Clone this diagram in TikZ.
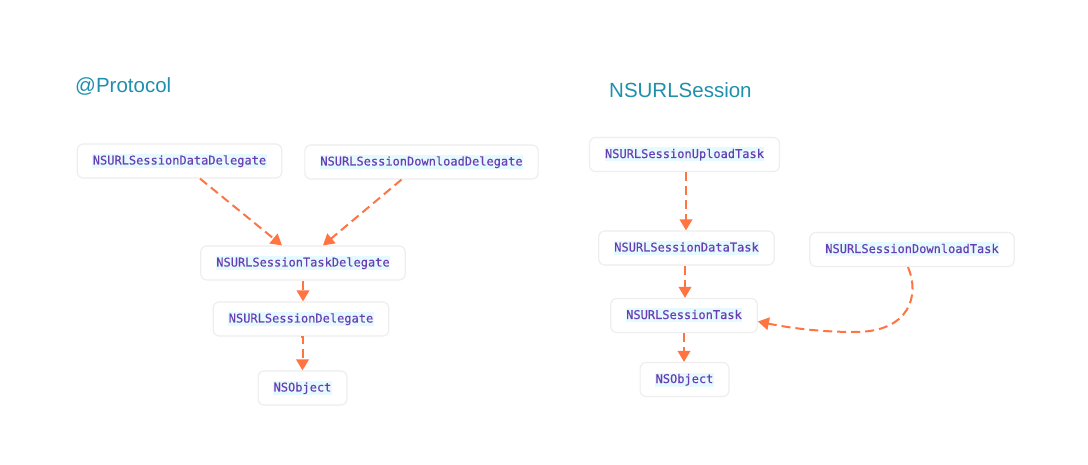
\documentclass[tikz,border=0pt]{standalone}
\usepackage{fontspec}
\setmainfont{Liberation Sans}
\newfontfamily\codefont[FakeBold=0.35]{DejaVu Sans Mono}
\usetikzlibrary{arrows.meta}
\definecolor{arr}{HTML}{FF7441}
\definecolor{ttl}{HTML}{1E90AE}
\definecolor{txt}{HTML}{6A3DB2}
\definecolor{hl}{HTML}{E4FAFF}
\definecolor{bd}{HTML}{EEEEEE}
\newcommand{\hlt}[1]{{\setlength{\fboxsep}{0.5pt}\colorbox{hl}{\vrule height 10pt depth 3pt width 0pt #1}}}
\begin{document}
\begin{tikzpicture}[x=1pt,y=-1pt,
  cls/.style={draw=bd, line width=1.2pt, rounded corners=6pt, fill=white,
    inner xsep=15pt, inner ysep=0pt, minimum height=34pt,
    font=\codefont\fontsize{12}{14}\selectfont, text=txt},
  link/.style={draw=arr, line width=2pt, dash pattern=on 9pt off 5pt,
    -{Triangle[length=11pt,width=12.5pt]}},
  ttlstyle/.style={anchor=base west, inner sep=0pt, text=ttl,
    font=\fontsize{20.5}{24}\selectfont}]
\fill[white] (0,0) rectangle (1088,465);
\useasboundingbox (0,0) rectangle (1088,465);

\node[ttlstyle] (tp) at (75,93) {@Protocol};
\node[ttlstyle] (ts) at (609,98) {NSURLSession};

% left
\node[cls] (dd) at (179.5,161) {\hlt{NSURLSessionDataDelegate}};
\node[cls] (dl) at (421.5,162) {\hlt{NSURLSessionDownloadDelegate}};
\node[cls] (td) at (303,263) {\hlt{NSURLSessionTaskDelegate}};
\node[cls] (sd) at (301,319) {\hlt{NSURLSessionDelegate}};
\node[cls] (ol) at (302.5,388) {\hlt{NSObject}};

% right
\node[cls] (ut) at (684.5,154.5) {\hlt{NSURLSessionUploadTask}};
\node[cls] (dt) at (686.5,248) {\hlt{NSURLSessionDataTask}};
\node[cls] (wt) at (912,249.5) {\hlt{NSURLSessionDownloadTask}};
\node[cls] (st) at (684,315.5) {\hlt{NSURLSessionTask}};
\node[cls] (or) at (684.5,379.5) {\hlt{NSObject}};

% connectors left
\draw[link] ([xshift=20.5pt]dd.south) -- ([xshift=-21pt]td.north);
\draw[link] ([xshift=-20pt]dl.south) -- ([xshift=20pt]td.north);
\draw[link] (td.south) -- (td.south |- sd.north);
\draw[link] (sd.south) -- (sd.south -| ol.north) -- (ol.north);

% connectors right
\draw[link] ([xshift=1.5pt]ut.south) -- ([xshift=-0.5pt]dt.north);
\draw[link] ([xshift=-1.5pt]dt.south) -- ([xshift=1pt]st.north);
\draw[link] (st.south) -- (st.south |- or.north);
\coordinate (cb) at (855,332);
\draw[link] ([xshift=-4pt]wt.south) .. controls (920,295) and (910,332) .. (cb)
  .. controls (820,332) and (790,328) .. ([yshift=-6pt]st.east);
\end{tikzpicture}
\end{document}
